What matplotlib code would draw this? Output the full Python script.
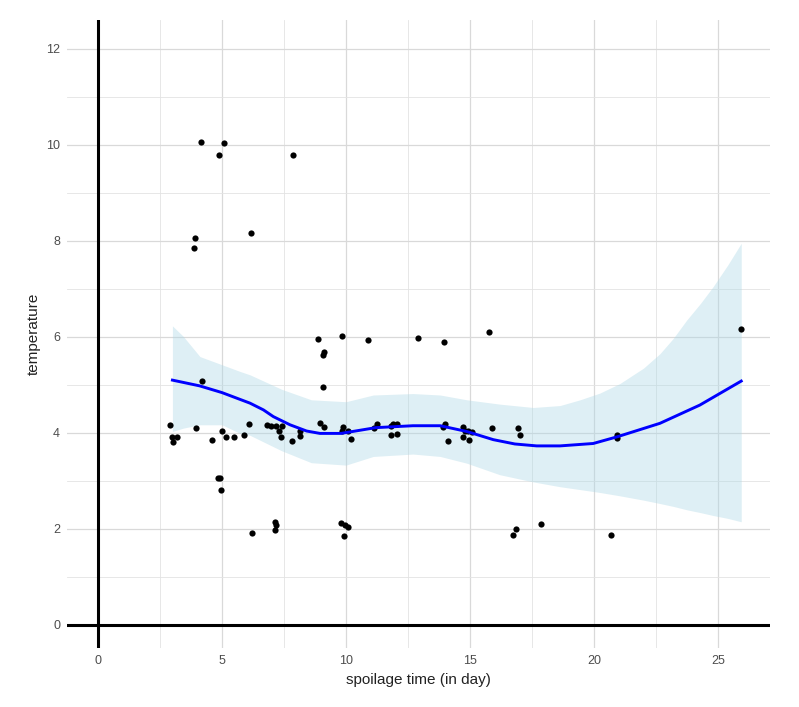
import matplotlib.pyplot as plt
from matplotlib.ticker import MultipleLocator

# points
spoil_day = [2.90, 2.97, 3.01, 3.17, 3.87, 3.91, 3.95, 4.15, 4.18, 4.58,
             4.85, 4.92, 4.88, 4.96, 5.00, 5.09, 5.15, 5.48, 5.90, 6.10,
             6.16, 6.20, 6.83, 6.96, 7.12, 7.18, 7.12, 7.18, 7.31, 7.42,
             7.38, 7.81, 7.85, 8.15, 8.15, 8.88, 8.95, 9.07, 9.11, 9.09,
             9.13, 9.80, 9.85, 9.89, 9.85, 9.93, 9.96, 10.09, 10.09, 10.19,
             10.90, 11.14, 11.26, 11.80, 11.90, 12.04, 11.80, 12.04, 12.90, 13.90,
             13.98, 13.96, 14.10, 14.70, 14.80, 14.93, 15.08, 14.73, 14.97, 15.75,
             15.90, 16.72, 16.85, 16.94, 17.03, 17.87, 20.70, 20.94, 20.94, 25.94]
temperature = [4.17, 3.92, 3.82, 3.92, 7.86, 8.06, 4.10, 10.06, 5.08, 3.85,
               3.06, 3.06, 9.79, 2.81, 4.05, 10.03, 3.92, 3.92, 3.96, 4.18,
               8.16, 1.92, 4.16, 4.15, 2.15, 2.08, 1.97, 4.15, 4.05, 4.15,
               3.92, 3.83, 9.79, 4.03, 3.94, 5.96, 4.21, 5.63, 5.69, 4.95,
               4.12, 2.13, 6.01, 4.13, 4.04, 1.85, 2.08, 2.05, 4.04, 3.87,
               5.94, 4.11, 4.19, 4.15, 4.18, 4.19, 3.95, 3.98, 5.98, 4.13,
               4.19, 5.90, 3.83, 4.13, 4.05, 4.03, 4.02, 3.92, 3.85, 6.11,
               4.11, 1.87, 2.00, 4.10, 3.96, 2.11, 1.87, 3.96, 3.90, 6.16]

# smoothed curve (loess)
smooth_x = [3.0, 4.1, 5.0, 6.13, 6.67, 7.07, 7.74, 8.41, 8.95, 9.8, 11.2, 12.7,
            13.8, 14.87, 15.94, 16.81, 17.69, 18.63, 19.97, 20.94, 22.66, 24.27, 25.94]
smooth_y = [5.10, 4.98, 4.84, 4.62, 4.48, 4.34, 4.17, 4.04, 3.99, 3.99, 4.11, 4.15,
            4.15, 4.03, 3.86, 3.77, 3.73, 3.73, 3.78, 3.92, 4.20, 4.58, 5.08]

# confidence band
band_x = [3.0, 3.44, 4.11, 5.0, 5.73, 6.13, 7.4, 8.6, 10.0, 11.1, 12.7, 13.8, 14.87,
          16.2, 17.55, 18.63, 19.44, 20.24, 21.05, 22.0, 22.66, 23.2, 23.74, 24.3,
          24.81, 25.4, 25.94]
band_hi = [6.23, 6.01, 5.59, 5.42, 5.28, 5.21, 4.91, 4.69, 4.65, 4.79, 4.82, 4.79, 4.69,
           4.60, 4.53, 4.57, 4.69, 4.83, 5.03, 5.35, 5.65, 5.97, 6.35, 6.70,
           7.05, 7.50, 7.95]
band_lo = [4.03, 4.10, 4.17, 4.17, 3.99, 3.95, 3.63, 3.38, 3.33, 3.51, 3.56, 3.51, 3.37,
           3.13, 2.98, 2.88, 2.82, 2.76, 2.69, 2.60, 2.53, 2.47, 2.40, 2.34,
           2.28, 2.22, 2.15]

plt.rcParams['font.family'] = ['Liberation Sans', 'DejaVu Sans']

fig = plt.figure(figsize=(7.99, 7.07), dpi=100)
ax = fig.add_axes([0.0839, 0.0834, 0.8798, 0.8883])

ax.fill_between(band_x, band_lo, band_hi, color='#ADD8E6', alpha=0.4, lw=0, zorder=2)
ax.scatter(spoil_day, temperature, s=20, color='black', lw=0, zorder=3)
ax.plot(smooth_x, smooth_y, color='blue', lw=2.1, zorder=4)

ax.axvline(0, color='black', lw=2.2, zorder=5)
ax.axhline(0, color='black', lw=2.2, zorder=5)

ax.set_xlim(-1.25, 27.1)
ax.set_ylim(-0.48, 12.6)
ax.xaxis.set_major_locator(MultipleLocator(5))
ax.xaxis.set_minor_locator(MultipleLocator(2.5))
ax.yaxis.set_major_locator(MultipleLocator(2))
ax.yaxis.set_minor_locator(MultipleLocator(1))
ax.grid(which='major', color='#d9d9d9', lw=0.9, zorder=0)
ax.grid(which='minor', color='#e3e3e3', lw=0.6, zorder=0)
ax.set_axisbelow(True)

for s in ax.spines.values():
    s.set_visible(False)
ax.tick_params(which='both', length=0, labelsize=9, labelcolor='#4d4d4d', pad=5)

ax.set_xlabel("spoilage time (in day)", fontsize=11, color='#222222')
ax.set_ylabel("temperature", fontsize=11, color='#222222')

fig.savefig("out.png", dpi=100)
